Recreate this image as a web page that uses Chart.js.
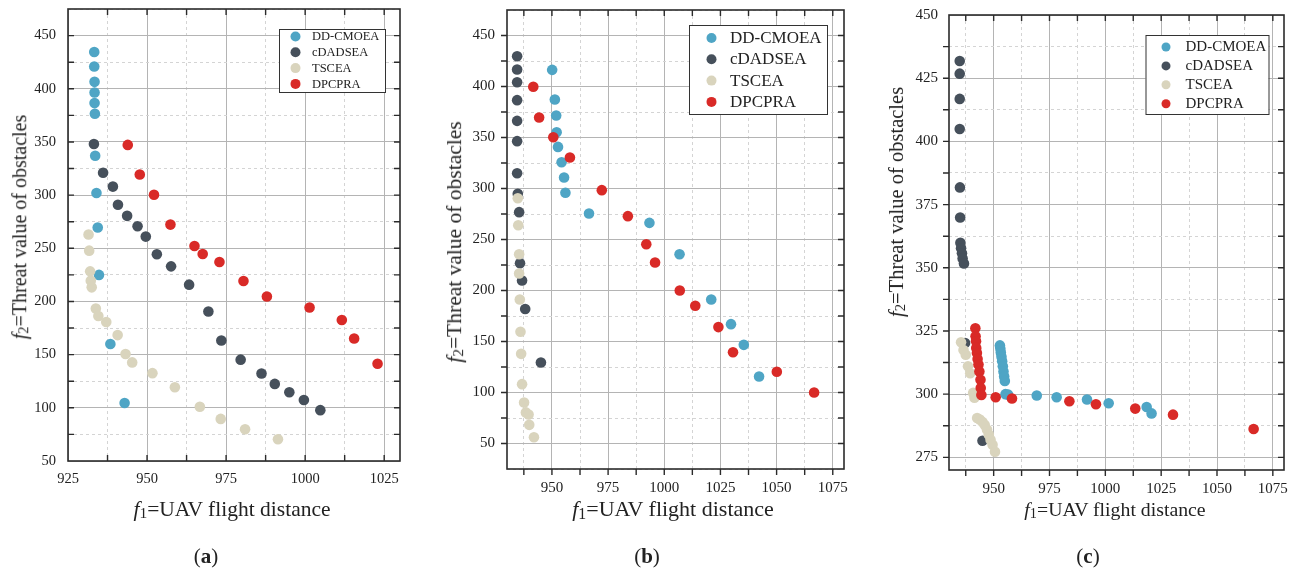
<!DOCTYPE html>
<html>
<head>
<meta charset="utf-8">
<script src="https://cdn.jsdelivr.net/npm/chart.js@4"></script>
<style>
  body { margin: 0; background: #fff; width: 1298px; height: 576px; overflow: hidden; position: relative;
         font-family: "Liberation Serif", "DejaVu Serif", serif; color: #222; }
  canvas { position: absolute; top: 0; }
  .xt, .yt, .tag { position: absolute; white-space: nowrap; font-size: 19px; line-height: 1; }
  .yt { transform: translate(-50%, -50%) rotate(-90deg); }
  .xt, .tag { transform: translate(-50%, -50%); }
  .tag { font-size: 21px; }
  .f { font-style: italic; }
  sub { font-size: 0.72em; vertical-align: -0.15em; }
</style>
</head>
<body>
<canvas id="ca" width="430" height="576" style="left:0px"></canvas>
<canvas id="cb" width="440" height="576" style="left:430px"></canvas>
<canvas id="cc" width="428" height="576" style="left:870px"></canvas>

<div class="yt" style="left:20px;top:227px;font-size:20px"><span class="f">f</span><sub>2</sub>=Threat value of obstacles</div>
<div class="xt" style="left:232px;top:510px;font-size:21.5px"><span class="f">f</span><sub>1</sub>=UAV flight distance</div>
<div class="tag" style="left:206px;top:556px">(<b>a</b>)</div>

<div class="yt" style="left:455px;top:242px;font-size:21.5px"><span class="f">f</span><sub>2</sub>=Threat value of obstacles</div>
<div class="xt" style="left:673px;top:510px;font-size:22px"><span class="f">f</span><sub>1</sub>=UAV flight distance</div>
<div class="tag" style="left:647px;top:556px">(<b>b</b>)</div>

<div class="yt" style="left:897px;top:202px;font-size:20.5px"><span class="f">f</span><sub>2</sub>=Threat value of obstacles</div>
<div class="xt" style="left:1115px;top:510px;font-size:19.8px"><span class="f">f</span><sub>1</sub>=UAV flight distance</div>
<div class="tag" style="left:1088px;top:556px">(<b>c</b>)</div>

<script>
const seriesNames = ['DD-CMOEA', 'cDADSEA', 'TSCEA', 'DPCPRA']
const seriesColors = ['#4fa5c5', '#46505b', '#d9d4bd', '#d92a27']

// panel (a)  [f1, f2]
const aDD = [[933.3,434.6],[933.3,421],[933.4,406.5],[933.4,396.5],[933.4,386.5],[933.5,376.5],[933.6,337],[934,302],[934.4,269.5],[934.8,225],[938.4,160],[942.9,104.5]]
const aCD = [[933.2,348],[936.1,321],[939.2,308],[940.8,291],[943.7,280.5],[947,270.7],[949.6,261],[953.1,244.4],[957.6,233],[963.3,215.8],[969.4,190.5],[973.5,163.3],[979.6,145.3],[986.2,132.3],[990.4,122.5],[995,114.6],[999.6,107.3],[1004.8,97.8]]
const aTS = [[931.5,262.9],[931.7,247.8],[932,228.3],[932.2,219.6],[932.5,213.3],[933.8,193.4],[934.6,186.4],[937.1,180.7],[940.7,168.4],[943.2,150.6],[945.3,142.7],[951.7,132.6],[958.8,119.3],[966.7,101],[973.3,89.6],[981,79.9],[991.4,70.4]]
const aDP = [[943.9,347.2],[947.7,319.4],[952.2,300.3],[957.4,272.3],[965,252.2],[967.6,244.7],[972.9,237.1],[980.5,219.3],[987.9,204.7],[1001.4,194.3],[1011.6,182.6],[1015.5,165.2],[1022.9,141.5]]

// panel (b)
const bDD = [[950.1,416.3],[951.3,387.3],[951.9,371.6],[952.1,355.2],[952.7,340.8],[954.3,325.8],[955.4,310.8],[956,295.8],[966.5,275.5],[993.4,266.3],[1006.8,235.6],[1020.9,191.2],[1029.7,167],[1035.4,146.7],[1042.2,115.7]]
const bCD = [[934.5,429.7],[934.5,416.7],[934.5,404.2],[934.5,386.6],[934.5,366.3],[934.5,346.4],[934.5,315],[934.8,294.8],[935.4,276.8],[935.8,226.8],[936.7,209.8],[938.1,181.9],[945.1,129.4]]
const bTS = [[934.8,290.5],[935,264],[935.4,235.6],[935.4,216.7],[935.7,191.2],[936,159.5],[936.3,137.9],[936.7,108.2],[937.6,90.2],[938.4,80.5],[939.6,78.5],[939.9,68.3],[942,56.2]]
const bDP = [[941.7,399.7],[944.3,369.6],[950.6,350.3],[958,330.4],[972.2,298.4],[983.8,272.9],[992,245.4],[995.9,227.5],[1006.9,200],[1013.8,185],[1024.1,164.1],[1030.6,139.5],[1050.1,120.3],[1066.7,100]]

// panel (c)
const cDD = [[952.8,319.3],[953,318],[953.2,316.5],[953.5,314.8],[953.8,313],[954.1,311],[954.4,309],[954.7,307],[955,305.2],[955.3,300],[956.5,299.8],[969.3,299.5],[978.2,298.8],[991.8,297.9],[1001.5,296.4],[1018.5,294.9],[1020.7,292.4]]
const cCD = [[934.8,431.8],[934.8,426.8],[934.8,416.8],[934.8,404.9],[934.9,381.8],[935,369.9],[935.1,359.9],[935.4,357.7],[935.8,355.7],[936.1,353.7],[936.7,351.7],[937.2,320.2],[945,281.6]]
const cTS = [[935.4,320.5],[936.5,317.5],[937.5,315.6],[938.5,311],[939.5,308.3],[940.8,300.5],[941.4,298.6],[942.6,290.6],[943.8,290],[945,289],[946,287.8],[947,286],[947.8,284],[948.6,282],[949.5,280],[950.6,277.2]]
const cDP = [[941.8,326.1],[941.9,322.9],[942.1,320.9],[942.2,318.3],[942.5,316.3],[942.8,313.9],[943.2,311.7],[943.6,309],[944.1,305.7],[944.2,302.4],[944.5,299.7],[950.9,298.8],[958.2,298.3],[983.9,297.2],[995.8,296],[1013.4,294.3],[1030.3,291.9],[1066.4,286.2]]

// axis ranges / tick steps per panel
const panels = [
  { id: 'ca', data: [aDD, aCD, aTS, aDP], x: [925, 1030], y: [50, 475], yMajor: 50, yMinor: 25,
    box: { l: 68, r: 400, t: 9, b: 461 }, tickOut: false, tickFont: 14.5, xPad: 9, yPad: 12,
    legend: { x: 279, y: 29, w: 106, h: 63, row0: 36.5, dy: 15.8, cx: 295.5, tx: 312, font: 12.5, r: 5 } },
  { id: 'cb', data: [bDD, bCD, bTS, bDP], x: [930, 1080], y: [25, 475], yMajor: 50, yMinor: 25,
    box: { l: 77, r: 414, t: 10, b: 469 }, tickOut: true, tickFont: 15, xPad: 10, yPad: 12,
    legend: { x: 259, y: 25, w: 138, h: 89, row0: 38, dy: 21.3, cx: 281.5, tx: 300, font: 17, r: 5 } },
  { id: 'cc', data: [cDD, cCD, cTS, cDP], x: [930, 1080], y: [270, 450], yMajor: 25, yMinor: 12.5,
    box: { l: 79, r: 414, t: 15, b: 470 }, tickOut: true, tickFont: 15, xPad: 10, yPad: 11,
    legend: { x: 275.5, y: 35, w: 123, h: 79, row0: 47, dy: 18.9, cx: 296, tx: 315.5, font: 15, r: 4.5 } }
]

const isMul = (v, s) => Math.abs(v / s - Math.round(v / s)) < 1e-6

// frame + small tick marks on all four sides
const framePlugin = {
  id: 'frame',
  afterDatasetsDraw(chart, args, o) {
    const { ctx, chartArea: a, scales } = chart
    ctx.save()
    ctx.strokeStyle = '#2b2b2b'
    ctx.lineWidth = 1.6
    ctx.strokeRect(a.left, a.top, a.right - a.left, a.bottom - a.top)
    ctx.lineWidth = 1.4
    const L = 6, out = o.tickOut ? -1 : 1
    ctx.beginPath()
    scales.x.ticks.forEach(t => {
      const px = scales.x.getPixelForValue(t.value)
      if (px <= a.left + 1 || px >= a.right - 1) return
      ctx.moveTo(px, a.top); ctx.lineTo(px, a.top + L)
      ctx.moveTo(px, a.bottom); ctx.lineTo(px, a.bottom - L * out)
    })
    scales.y.ticks.forEach(t => {
      const py = scales.y.getPixelForValue(t.value)
      if (py <= a.top + 1 || py >= a.bottom - 1) return
      ctx.moveTo(a.right, py); ctx.lineTo(a.right - L, py)
      ctx.moveTo(a.left, py); ctx.lineTo(a.left + L * out, py)
    })
    ctx.stroke()
    ctx.restore()
  }
}

// boxed legend inside the plot
const boxLegend = {
  id: 'boxLegend',
  afterDraw(chart, args, o) {
    const { ctx } = chart
    ctx.save()
    ctx.fillStyle = '#fff'
    ctx.fillRect(o.x, o.y, o.w, o.h)
    ctx.strokeStyle = '#333'
    ctx.lineWidth = 1
    ctx.strokeRect(o.x + 0.5, o.y + 0.5, o.w, o.h)
    ctx.font = o.font + 'px "Liberation Serif", serif'
    ctx.textBaseline = 'middle'
    seriesNames.forEach((n, i) => {
      const y = o.row0 + i * o.dy
      ctx.fillStyle = seriesColors[i]
      ctx.beginPath(); ctx.arc(o.cx, y, o.r, 0, Math.PI * 2); ctx.fill()
      ctx.fillStyle = '#222'
      ctx.fillText(n, o.tx, y + 0.5)
    })
    ctx.restore()
  }
}

const stepTicks = (step) => (s) => {
  const t = []
  for (let v = Math.ceil(s.min / step - 1e-9) * step; v <= s.max + 1e-6; v += step) t.push({ value: v })
  s.ticks = t
}

panels.forEach(p => {
  const cv = document.getElementById(p.id)
  const font = { family: '"Liberation Serif", serif', size: p.tickFont }
  new Chart(cv, {
    type: 'scatter',
    data: {
      datasets: p.data.map((pts, i) => ({
        label: seriesNames[i],
        data: pts.map(([x, y]) => ({ x, y })),
        backgroundColor: seriesColors[i],
        borderWidth: 0,
        pointRadius: 5.3,
        pointHoverRadius: 5.3,
        order: 3 - i
      }))
    },
    options: {
      responsive: false,
      animation: false,
      events: [],
      layout: { padding: { left: 0, right: cv.width - p.box.r, top: p.box.t, bottom: 576 - p.box.b - 30 } },
      plugins: { legend: { display: false }, tooltip: { enabled: false },
                 frame: { tickOut: p.tickOut }, boxLegend: p.legend },
      scales: {
        x: {
          type: 'linear', min: p.x[0], max: p.x[1],
          afterBuildTicks: stepTicks(12.5),
          afterFit: s => { s.height = 30; s.paddingLeft = 0; s.paddingRight = 0 },
          ticks: { autoSkip: false, maxRotation: 0, padding: p.xPad, color: '#222', font,
                   callback: v => isMul(v, 25) ? v : '' },
          grid: { drawTicks: false,
                  color: c => isMul(c.tick.value, 25) ? '#b4b4b4' : '#d4d4d4',
                  lineWidth: 1 },
          border: { display: false, dash: c => (c.tick && !isMul(c.tick.value, 25)) ? [3, 3] : [] }
        },
        y: {
          type: 'linear', min: p.y[0], max: p.y[1],
          afterBuildTicks: stepTicks(p.yMinor),
          afterFit: s => { s.width = p.box.l; s.paddingTop = 0; s.paddingBottom = 0 },
          ticks: { autoSkip: false, padding: p.yPad, color: '#222', font,
                   callback: v => isMul(v, p.yMajor) ? v : '' },
          grid: { drawTicks: false,
                  color: c => isMul(c.tick.value, p.yMajor) ? '#b4b4b4' : '#d4d4d4',
                  lineWidth: 1 },
          border: { display: false, dash: c => (c.tick && !isMul(c.tick.value, p.yMajor)) ? [3, 3] : [] }
        }
      }
    },
    plugins: [framePlugin, boxLegend]
  })
})
</script>
</body>
</html>
